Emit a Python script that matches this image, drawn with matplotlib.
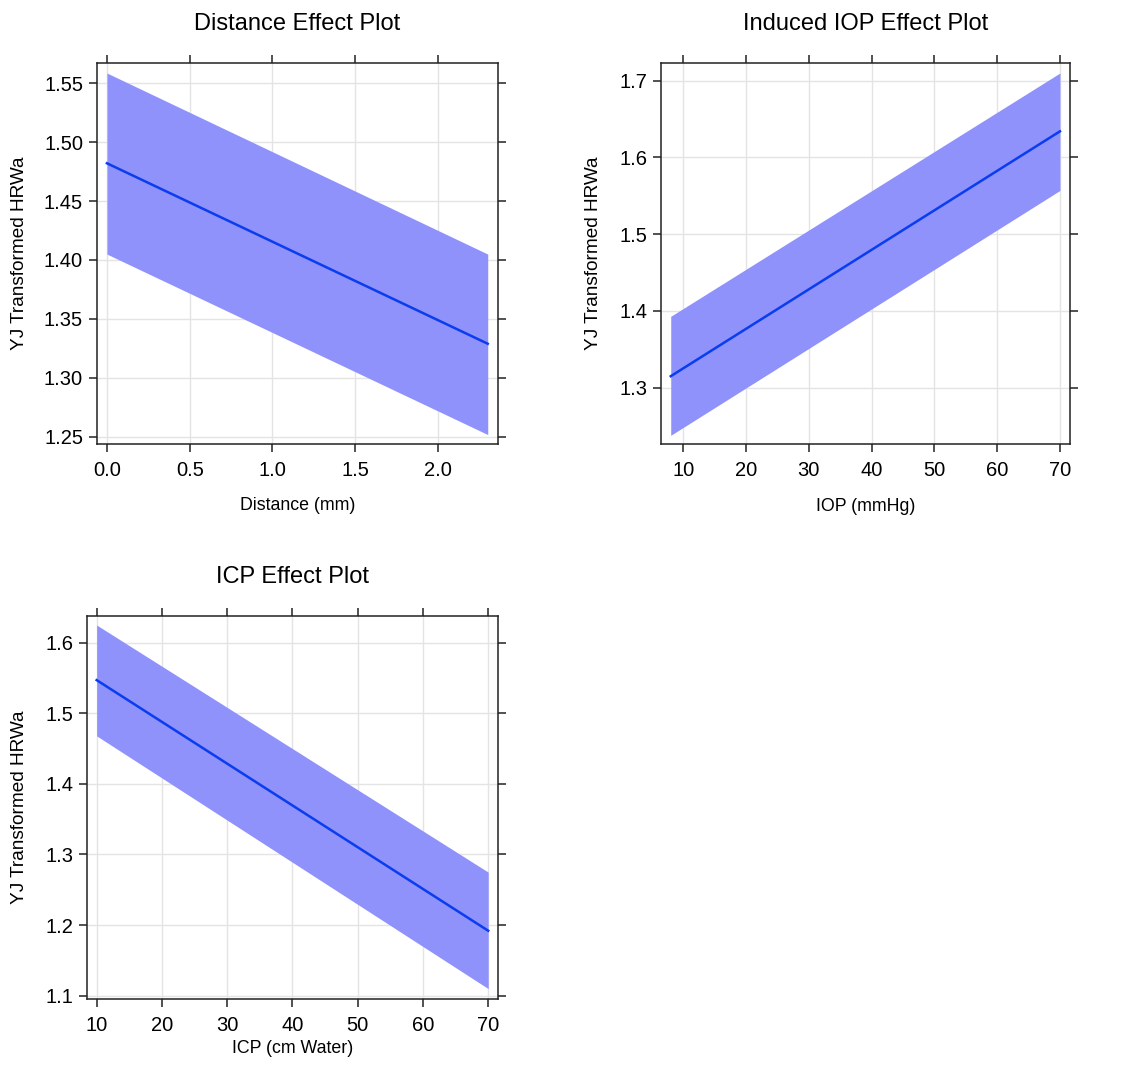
import numpy as np
import matplotlib.pyplot as plt

plt.rcParams['font.family'] = ['Liberation Sans', 'DejaVu Sans']

# Distance panel
dist_x = [0.0, 2.3]
dist_fit = [1.482, 1.329]
dist_lo = [1.405, 1.252]
dist_hi = [1.5585, 1.405]

# Induced IOP panel
iop_x = [8, 70]
iop_fit = [1.315, 1.634]
iop_lo = [1.238, 1.557]
iop_hi = [1.393, 1.710]

# ICP panel
icp_x = [10, 70]
icp_fit = [1.547, 1.192]
icp_lo = [1.468, 1.110]
icp_hi = [1.625, 1.275]

W, H = 1123, 1078
fig = plt.figure(figsize=(W / 100, H / 100), dpi=100)

fill_col = '#8f92fa'
line_col = '#0a3cf0'


def panel(rect, x, fit, lo, hi, xlim, ylim, xticks, yticks, xfmt, yfmt,
          title, xlabel, xlab_y, ylab_x):
    ax = fig.add_axes(rect)
    ax.fill_between(x, lo, hi, color=fill_col, lw=0, zorder=2)
    ax.plot(x, fit, color=line_col, lw=1.8, zorder=3)
    ax.set_xlim(xlim)
    ax.set_ylim(ylim)
    ax.set_xticks(xticks)
    ax.set_yticks(yticks)
    ax.set_xticklabels([xfmt.format(v) for v in xticks])
    ax.set_yticklabels([yfmt.format(v) for v in yticks])
    ax.grid(True, color='#e4e4e4', lw=1, zorder=1)
    ax.set_axisbelow(True)
    ax.tick_params(direction='out', length=6, width=1.1, labelsize=14.5,
                   top=True, right=True, color='#222222', pad=4)
    ax.tick_params(axis='x', pad=6)
    for s in ax.spines.values():
        s.set_color('#222222')
        s.set_linewidth(1.1)
    ax.set_title(title, fontsize=17, pad=24)
    ax.set_xlabel(xlabel, fontsize=12.8)
    ax.set_ylabel('YJ Transformed HRWa', fontsize=13.7)
    ax.xaxis.set_label_coords(0.5, xlab_y)
    ax.yaxis.set_label_coords(ylab_x, 0.5)
    return ax


panel([97 / W, 1 - 444 / H, 401 / W, 381 / H], dist_x, dist_fit, dist_lo, dist_hi,
      (-0.06, 2.362), (1.244, 1.567),
      [0.0, 0.5, 1.0, 1.5, 2.0], [1.25, 1.30, 1.35, 1.40, 1.45, 1.50, 1.55],
      '{:.1f}', '{:.2f}', 'Distance Effect Plot', 'Distance (mm)', -0.139, -0.172)

panel([661 / W, 1 - 444 / H, 409 / W, 381 / H], iop_x, iop_fit, iop_lo, iop_hi,
      (6.45, 71.6), (1.2267, 1.723),
      [10, 20, 30, 40, 50, 60, 70], [1.3, 1.4, 1.5, 1.6, 1.7],
      '{:d}', '{:.1f}', 'Induced IOP Effect Plot', 'IOP (mmHg)', -0.142, -0.144)

panel([87 / W, 1 - 999 / H, 411 / W, 383 / H], icp_x, icp_fit, icp_lo, icp_hi,
      (8.52, 71.5), (1.0953, 1.6378),
      [10, 20, 30, 40, 50, 60, 70], [1.1, 1.2, 1.3, 1.4, 1.5, 1.6],
      '{:d}', '{:.1f}', 'ICP Effect Plot', 'ICP (cm Water)', -0.107, -0.144)

fig.savefig('out.png', dpi=100)
